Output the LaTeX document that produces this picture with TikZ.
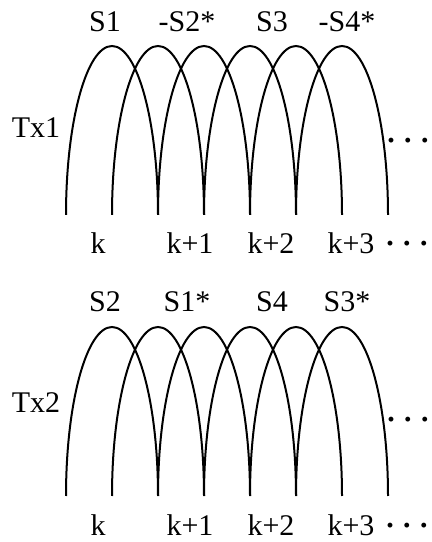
\documentclass[tikz,border=0pt]{standalone}
\usepackage{fontspec}
\setmainfont{Liberation Serif}
\usepackage{tikz}

\tikzset{
  lobe/.style={line width=2bp},
  lbl/.style={font=\fontsize{30bp}{34bp}\selectfont, inner sep=0pt, anchor=base},
  more/.style={font=\fontsize{30bp}{34bp}\selectfont\bfseries, inner sep=0pt, anchor=base}
}

\begin{document}
\begin{tikzpicture}[x=1bp, y=1bp]
  \useasboundingbox (0,0) rectangle (431,542);
  % Tx1: six overlapping lobes
  \foreach \i in {0,...,5}
    \draw[lobe] (66+46*\i,327) arc[start angle=180, end angle=0, x radius=46, y radius=169];
  % symbols above Tx1
  \node[lbl] (s1a) at (105,510) {S1};
  \node[lbl] (s2a) at (187,510) {-S2*};
  \node[lbl] (s3a) at (272,510) {S3};
  \node[lbl] (s4a) at (347,510) {-S4*};
  \node[lbl] (tx1) at (36,404) {Tx1};
  \node[more] (dota) at (408,391) {·\kern7bp·\kern7bp·};
  % sub-carrier indices of Tx1
  \node[lbl] (ka) at (98,288) {k};
  \node[lbl] (k1a) at (190,288) {k+1};
  \node[lbl] (k2a) at (271,288) {k+2};
  \node[lbl] (k3a) at (351,288) {k+3};
  \node[more] (dotka) at (407,288) {·\kern7bp·\kern7bp·};
  % Tx2: six overlapping lobes
  \foreach \i in {0,...,5}
    \draw[lobe] (66+46*\i,46) arc[start angle=180, end angle=0, x radius=46, y radius=169];
  % symbols above Tx2
  \node[lbl] (s2b) at (105,230) {S2};
  \node[lbl] (s1b) at (187,230) {S1*};
  \node[lbl] (s4b) at (272,230) {S4};
  \node[lbl] (s3b) at (347,230) {S3*};
  \node[lbl] (tx2) at (36,129) {Tx2};
  \node[more] (dotb) at (408,112) {·\kern7bp·\kern7bp·};
  % sub-carrier indices of Tx2
  \node[lbl] (kb) at (98,6) {k};
  \node[lbl] (k1b) at (190,6) {k+1};
  \node[lbl] (k2b) at (271,6) {k+2};
  \node[lbl] (k3b) at (351,6) {k+3};
  \node[more] (dotkb) at (407,6) {·\kern7bp·\kern7bp·};
\end{tikzpicture}
\end{document}
